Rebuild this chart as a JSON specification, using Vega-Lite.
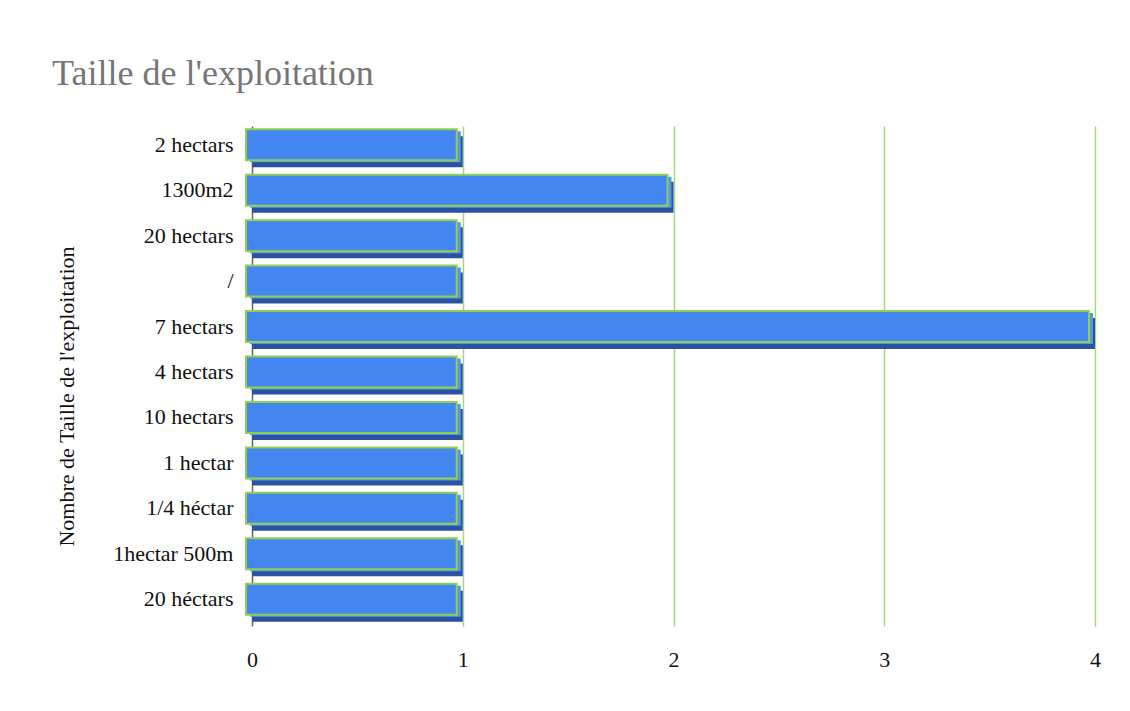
{
  "$schema": "https://vega.github.io/schema/vega-lite/v6.json",
  "autosize": {"type": "none"},
  "width": 843,
  "height": 500,
  "padding": {"left": 252, "top": 126, "right": 35, "bottom": 85},
  "background": "white",
  "title": {
    "text": "Taille de l'exploitation",
    "anchor": "start",
    "frame": "group",
    "dx": -200,
    "dy": 33,
    "offset": 38,
    "baseline": "alphabetic",
    "font": "Liberation Serif",
    "fontSize": 36,
    "fontWeight": "normal",
    "color": "#767676"
  },
  "data": {
    "values": [
      {"Taille": "2 hectars", "Nombre": 1},
      {"Taille": "1300m2", "Nombre": 2},
      {"Taille": "20 hectars", "Nombre": 1},
      {"Taille": "/", "Nombre": 1},
      {"Taille": "7 hectars", "Nombre": 4},
      {"Taille": "4 hectars", "Nombre": 1},
      {"Taille": "10 hectars", "Nombre": 1},
      {"Taille": "1 hectar", "Nombre": 1},
      {"Taille": "1/4 héctar", "Nombre": 1},
      {"Taille": "1hectar 500m", "Nombre": 1},
      {"Taille": "20 héctars", "Nombre": 1}
    ]
  },
  "encoding": {
    "y": {
      "field": "Taille",
      "type": "nominal",
      "sort": null,
      "title": "Nombre de Taille de l'exploitation",
      "axis": {
        "ticks": false,
        "domain": false,
        "labelPadding": 19,
        "labelOffset": -4,
        "labelFont": "Liberation Serif",
        "labelFontSize": 22,
        "labelColor": "#111111",
        "titleFont": "Liberation Serif",
        "titleFontSize": 22,
        "titleFontWeight": "normal",
        "titleColor": "#111111",
        "titleX": -174,
        "titleY": 270
      }
    },
    "x": {
      "field": "Nombre",
      "type": "quantitative",
      "scale": {"domain": [0, 4], "nice": false},
      "title": null,
      "axis": {
        "values": [0, 1, 2, 3, 4],
        "format": "d",
        "ticks": false,
        "domain": false,
        "grid": true,
        "gridWidth": 1.5,
        "gridColor": {
          "condition": {"test": "datum.value === 0", "value": "#666666"},
          "value": "#a3d977"
        },
        "labelFlush": false,
        "labelPadding": 23,
        "labelFont": "Liberation Serif",
        "labelFontSize": 22,
        "labelColor": "#111111"
      }
    }
  },
  "layer": [
    {
      "mark": {"type": "bar", "size": 31, "color": "#2a52a3", "yOffset": 3, "xOffset": 0}
    },
    {
      "mark": {"type": "bar", "size": 31, "color": "#5d93e6", "yOffset": -2, "xOffset": -2}
    },
    {
      "mark": {
        "type": "bar",
        "size": 31,
        "color": "#4587f0",
        "stroke": "#8fd14f",
        "strokeWidth": 2,
        "yOffset": -4,
        "xOffset": -6
      }
    }
  ],
  "config": {
    "view": {"stroke": null}
  }
}
